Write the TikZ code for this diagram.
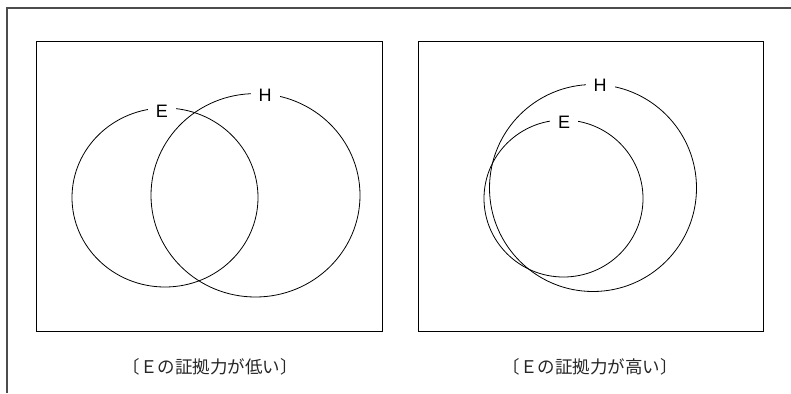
\documentclass[tikz,border=0pt]{standalone}
\usepackage{fontspec}
\setmainfont{Liberation Sans}
\newfontfamily\cjk{Noto Sans CJK JP}
\begin{document}
\begin{tikzpicture}[x=1pt,y=-1pt,
  frame/.style={line width=1.2pt,draw=black!70},
  panel/.style={line width=1pt,draw=black},
  ring/.style={line width=0.8pt,draw=black},
  lab/.style={fill=white,inner xsep=8pt,inner ysep=1pt,font=\fontsize{18}{18}\selectfont},
  captext/.style={font=\cjk\fontsize{17.5}{18}\selectfont,text=black!85}]
\useasboundingbox (0,0) rectangle (791,393);
% outer frame (partial)
\draw[frame] (7,393) -- (7,8) -- (791,8);
% panels
\draw[panel] (36,42) rectangle (382,331);
\draw[panel] (418,42) rectangle (763,331);
% left circles
\draw[ring] (165,197.5) ellipse[x radius=93,y radius=89.5];
\draw[ring] (255.5,195.3) ellipse[x radius=104.5,y radius=101.7];
\node[lab] (e1) at (162,111.5) {E};
\node[lab] (h1) at (265,95) {H};
% right circles
\draw[ring] (593,188) circle[radius=103.5];
\draw[ring] (563.5,198.5) ellipse[x radius=79.5,y radius=78.5];
\node[lab] (h2) at (600,85) {H};
\node[lab] (e2) at (564,122) {E};
% captions
\node[captext] (c1) at (210,367) {〔Ｅの証拠力が低い〕};
\node[captext] (c2) at (590,367) {〔Ｅの証拠力が高い〕};
\end{tikzpicture}
\end{document}
